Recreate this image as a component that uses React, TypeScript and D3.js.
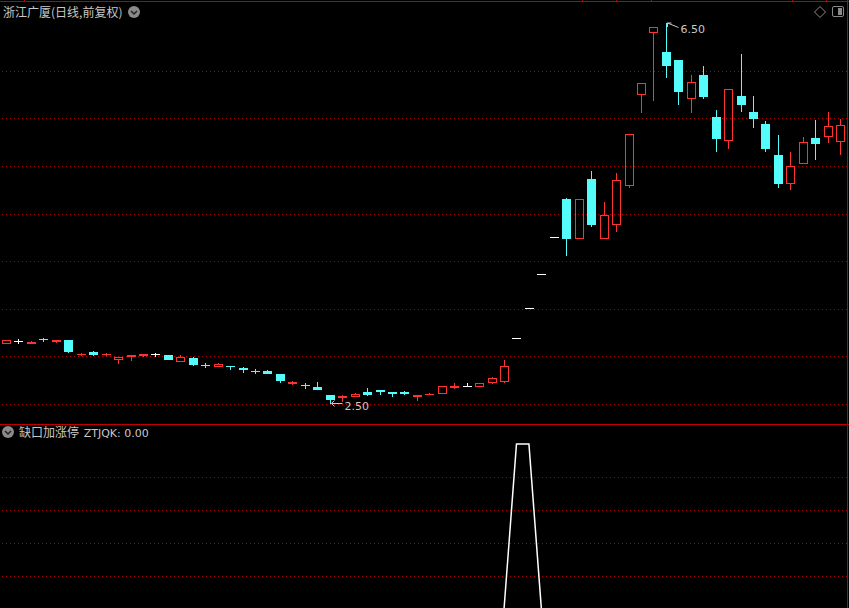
import { useEffect } from 'react'
import * as d3 from 'd3'

// daily bars, 前复权
const opens = [
  3.13, 3.16, 3.13, 3.18, 3.15, 3.17, 3.01, 3.05, 3.01, 2.96,
  2.99, 3.00, 3.02, 3.01, 2.94, 2.98, 2.91, 2.89, 2.90, 2.88,
  2.85, 2.85, 2.82, 2.71, 2.70, 2.68, 2.59, 2.56, 2.57, 2.63,
  2.65, 2.63, 2.63, 2.57, 2.59, 2.60, 2.67, 2.69, 2.68, 2.72,
  2.73, 3.19, 3.51, 3.86, 4.25, 4.65, 4.23, 4.86, 4.23, 4.38,
  4.79, 5.74, 6.39, 6.20, 6.11, 5.70, 5.95, 5.51, 5.26, 5.73,
  5.57, 5.44, 5.11, 4.81, 5.02, 5.29, 5.30, 5.25,
]
const highs = [
  3.17, 3.18, 3.16, 3.19, 3.17, 3.17, 3.04, 3.06, 3.04, 2.99,
  3.01, 3.02, 3.04, 3.01, 3.01, 2.99, 2.93, 2.93, 2.90, 2.89,
  2.87, 2.86, 2.82, 2.74, 2.72, 2.73, 2.59, 2.59, 2.62, 2.67,
  2.65, 2.63, 2.64, 2.59, 2.62, 2.69, 2.72, 2.72, 2.72, 2.78,
  2.96, 3.19, 3.51, 3.86, 4.25, 4.66, 4.65, 4.95, 4.62, 4.93,
  5.33, 5.87, 6.46, 6.50, 6.11, 5.95, 6.05, 5.59, 5.81, 6.17,
  5.73, 5.47, 5.32, 5.15, 5.30, 5.48, 5.57, 5.49,
]
const lows = [
  3.13, 3.13, 3.13, 3.15, 3.14, 3.04, 3.00, 3.00, 3.00, 2.92,
  2.95, 2.99, 2.99, 2.96, 2.94, 2.90, 2.88, 2.89, 2.86, 2.83,
  2.82, 2.81, 2.72, 2.70, 2.66, 2.65, 2.50, 2.52, 2.57, 2.58,
  2.59, 2.57, 2.59, 2.53, 2.59, 2.60, 2.66, 2.69, 2.68, 2.71,
  2.72, 3.19, 3.51, 3.86, 4.25, 4.05, 4.23, 4.36, 4.23, 4.31,
  4.77, 5.55, 5.68, 5.92, 5.64, 5.55, 5.70, 5.15, 5.18, 5.57,
  5.40, 5.15, 4.77, 4.75, 5.02, 5.06, 5.24, 5.11,
]
const closes = [
  3.17, 3.16, 3.15, 3.17, 3.17, 3.05, 3.03, 3.01, 3.03, 2.99,
  3.01, 3.02, 3.02, 2.96, 2.99, 2.91, 2.90, 2.92, 2.89, 2.86,
  2.84, 2.82, 2.74, 2.73, 2.69, 2.65, 2.54, 2.58, 2.61, 2.59,
  2.63, 2.61, 2.61, 2.59, 2.61, 2.69, 2.69, 2.69, 2.72, 2.77,
  2.90, 3.19, 3.51, 3.86, 4.25, 4.23, 4.65, 4.38, 4.48, 4.85,
  5.33, 5.87, 6.46, 6.05, 5.78, 5.88, 5.72, 5.28, 5.81, 5.64,
  5.49, 5.18, 4.81, 5.00, 5.25, 5.23, 5.42, 5.43,
]
// 缺口加涨停 indicator
const ztjqk = [
  0, 0, 0, 0, 0, 0, 0, 0, 0, 0,
  0, 0, 0, 0, 0, 0, 0, 0, 0, 0,
  0, 0, 0, 0, 0, 0, 0, 0, 0, 0,
  0, 0, 0, 0, 0, 0, 0, 0, 0, 0,
  0, 1, 1, 0, 0, 0, 0, 0, 0, 0,
  0, 0, 0, 0, 0, 0, 0, 0, 0, 0,
  0, 0, 0, 0, 0, 0, 0, 0,
]
const priceTicks = [2.5, 3.0, 3.5, 4.0, 4.5, 5.0, 5.5, 6.0]
const indTicks = [0.2, 0.4, 0.6, 0.8]
const topTicks = [24, 582, 616, 651, 792, 826]

const W = 849
const H = 608
const UP = '#ff3232'
const DOWN = '#54fcfc'
const BORDER = '#c00000'
const GRID = '#b00000'
const LABEL = '#c8c8c8'

export default function App() {
  useEffect(() => {
    document.body.style.margin = '0'
    document.body.style.background = '#000'
  }, [])

  const n = closes.length
  const x = d3.scaleLinear().domain([0, n - 1]).range([6, 840.2])
  const y = d3.scaleLinear().domain([2.5, 6.5]).range([404, 23])
  const y2 = d3.scaleLinear().domain([0, 1]).range([609, 444])

  const hiIdx = d3.maxIndex(highs)
  const loIdx = d3.minIndex(lows)
  const hx = Math.round(x(hiIdx)) + 0.5
  const hy = Math.round(y(highs[hiIdx]))
  const lx = Math.round(x(loIdx)) + 0.5
  const ly = Math.round(y(lows[loIdx]))

  const line = d3.line<number>()
    .x((_, i) => x(i))
    .y(d => y2(d))

  const candles = d3.range(n).map(i => {
    const o = opens[i], c = closes[i], h = highs[i], l = lows[i]
    const cx = Math.round(x(i)) + 0.5
    const left = Math.round(x(i)) - 4
    const yo = Math.round(y(o)), yc = Math.round(y(c))
    const yh = Math.round(y(h)), yl = Math.round(y(l))
    if (o === c) {
      return (
        <g key={i} stroke="#ffffff" strokeWidth={1}>
          {yh < yl && <line x1={cx} x2={cx} y1={yh} y2={yl} />}
          <line x1={left} x2={left + 9} y1={yo + 0.5} y2={yo + 0.5} />
        </g>
      )
    }
    const top = Math.min(yo, yc), bot = Math.max(yo, yc)
    if (c > o) {
      const hh = bot - top
      return (
        <g key={i}>
          {yh < top && <line x1={cx} x2={cx} y1={yh} y2={top} stroke={UP} />}
          {yl > bot && <line x1={cx} x2={cx} y1={bot} y2={yl} stroke={UP} />}
          {hh < 3
            ? <rect x={left} y={top} width={9} height={Math.max(1, hh)} fill={UP} />
            : <rect x={left + 0.5} y={top + 0.5} width={8} height={hh - 1} fill="none" stroke={UP} strokeWidth={1} />}
        </g>
      )
    }
    return (
      <g key={i}>
        {yh < yl && <line x1={cx} x2={cx} y1={yh} y2={yl} stroke={DOWN} strokeWidth={1} />}
        <rect x={left} y={top} width={9} height={Math.max(1, bot - top)} fill={DOWN} />
      </g>
    )
  })

  return (
    <svg width={W} height={H} style={{ position: 'absolute', left: 0, top: 0, background: '#000', display: 'block' }}
      fontFamily="'Noto Sans CJK SC', 'DejaVu Sans', sans-serif">
      <defs>
        <clipPath id="ind"><rect x={0} y={425} width={847} height={H - 425} /></clipPath>
      </defs>
      <rect width={W} height={H} fill="#000" />

      {/* grid, main panel */}
      {priceTicks.map(t => (
        <line key={t} x1={2} x2={847} y1={Math.round(y(t)) + 0.5} y2={Math.round(y(t)) + 0.5}
          stroke={GRID} strokeDasharray="1 3" />
      ))}
      {/* grid, indicator panel */}
      {indTicks.map(t => (
        <line key={t} x1={2} x2={847} y1={Math.round(y2(t)) + 0.5} y2={Math.round(y2(t)) + 0.5}
          stroke={GRID} strokeDasharray="1 3" />
      ))}

      {/* borders */}
      <line x1={0} x2={W} y1={1.5} y2={1.5} stroke={BORDER} />
      {topTicks.map(t => <line key={t} x1={t + 0.5} x2={t + 0.5} y1={0} y2={2} stroke={BORDER} />)}
      <line x1={0} x2={W} y1={424.5} y2={424.5} stroke={BORDER} />
      <line x1={847.5} x2={847.5} y1={0} y2={H} stroke={BORDER} />

      {candles}

      {/* high / low marks */}
      <g stroke={LABEL} strokeWidth={1} fill="none">
        <path d={`M${hx + 1},${hy} L${hx + 12},${hy + 4.5} M${hx + 1},${hy} l0,4 M${hx + 1},${hy} l4,0`} />
        <path d={`M${lx + 1},${ly - 0.5} L${lx + 12},${ly - 0.5} M${lx + 1},${ly - 0.5} l3,-3 M${lx + 1},${ly - 0.5} l3,3`} />
      </g>
      <text x={hx + 14} y={hy + 9.5} fill={LABEL} fontSize={11} fontFamily="'DejaVu Sans', sans-serif">
        {highs[hiIdx].toFixed(2)}
      </text>
      <text x={lx + 14} y={ly + 6} fill={LABEL} fontSize={11} fontFamily="'DejaVu Sans', sans-serif">
        {lows[loIdx].toFixed(2)}
      </text>

      {/* titles */}
      <text x={3} y={17} fill={LABEL} fontSize={12}>浙江广厦(日线,前复权)</text>
      <circle cx={134} cy={12} r={6} fill="#8a8a8a" />
      <path d="M131,11 l3,3 l3,-3" stroke="#222" strokeWidth={1.5} fill="none" />

      <path d="M820,6.5 L825.5,12 L820,17.5 L814.5,12 Z" stroke="#8a8a8a" fill="none" />
      <rect x={832.5} y={6.5} width={11} height={10} rx={1.5} stroke="#8a8a8a" fill="none" />
      <rect x={838} y={8} width={4} height={7} fill="#8a8a8a" />

      <circle cx={8} cy={432} r={6} fill="#8a8a8a" />
      <path d="M5,431 l3,3 l3,-3" stroke="#222" strokeWidth={1.5} fill="none" />
      <text x={19} y={437} fill={LABEL} fontSize={12}>
        缺口加涨停 <tspan dx={2} fontFamily="'DejaVu Sans', sans-serif" fontSize={11}>ZTJQK: {ztjqk[n - 1].toFixed(2)}</tspan>
      </text>

      <g clipPath="url(#ind)">
        <path d={line(ztjqk) ?? ''} stroke="#ffffff" strokeWidth={1.5} fill="none" />
      </g>
    </svg>
  )
}
